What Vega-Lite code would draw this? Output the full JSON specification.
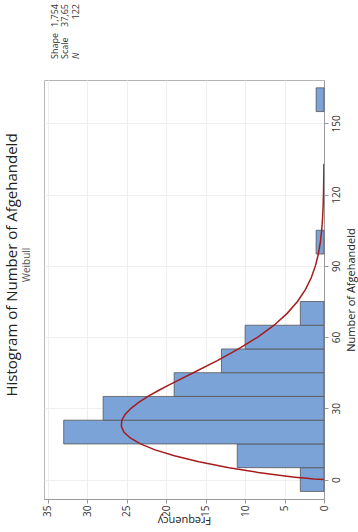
{
  "$schema": "https://vega.github.io/schema/vega-lite/v6.json",
  "padding": {"left": 5, "top": 3, "right": 2, "bottom": 0},
  "background": "white",
  "config": {
    "font": "Open Sans",
    "view": {"stroke": "#b5b5b5"},
    "concat": {"spacing": 19}
  },
  "title": {
    "text": "Histogram of Number of Afgehandeld",
    "subtitle": "Weibull",
    "orient": "left",
    "anchor": "middle",
    "fontSize": 15,
    "fontWeight": "normal",
    "color": "#222222",
    "subtitleFontSize": 10,
    "subtitleColor": "#555555",
    "subtitlePadding": 2,
    "offset": 10,
    "dx": 0
  },
  "datasets": {
    "stats": [
      {"stat": "Shape", "part": "label", "text": "Shape"},
      {"stat": "Shape", "part": "value", "text": "1,754"},
      {"stat": "Scale", "part": "label", "text": "Scale"},
      {"stat": "Scale", "part": "value", "text": "37,65"},
      {"stat": "N", "part": "label", "text": "N"},
      {"stat": "N", "part": "value", "text": "122"}
    ],
    "bins": [
      {"lo": -5, "hi": 5, "count": 3},
      {"lo": 5, "hi": 15, "count": 11},
      {"lo": 15, "hi": 25, "count": 33},
      {"lo": 25, "hi": 35, "count": 28},
      {"lo": 35, "hi": 45, "count": 19},
      {"lo": 45, "hi": 55, "count": 13},
      {"lo": 55, "hi": 65, "count": 10},
      {"lo": 65, "hi": 75, "count": 3},
      {"lo": 95, "hi": 105, "count": 1},
      {"lo": 155, "hi": 165, "count": 1}
    ],
    "fit": [
      {"v": 0, "f": 0},
      {"v": 0.25, "f": 1.3},
      {"v": 0.5, "f": 2.18},
      {"v": 1, "f": 3.68},
      {"v": 2, "f": 6.18},
      {"v": 3, "f": 8.34},
      {"v": 5, "f": 12.05},
      {"v": 7.5, "f": 15.87},
      {"v": 10, "f": 18.97},
      {"v": 12.5, "f": 21.42},
      {"v": 15, "f": 23.27},
      {"v": 17.5, "f": 24.57},
      {"v": 20, "f": 25.37},
      {"v": 22.5, "f": 25.7},
      {"v": 25, "f": 25.63},
      {"v": 27.5, "f": 25.2},
      {"v": 30, "f": 24.47},
      {"v": 32.5, "f": 23.49},
      {"v": 35, "f": 22.32},
      {"v": 37.5, "f": 20.99},
      {"v": 40, "f": 19.57},
      {"v": 45, "f": 16.57},
      {"v": 50, "f": 13.59},
      {"v": 55, "f": 10.83},
      {"v": 60, "f": 8.39},
      {"v": 65, "f": 6.33},
      {"v": 70, "f": 4.67},
      {"v": 75, "f": 3.36},
      {"v": 80, "f": 2.36},
      {"v": 85, "f": 1.62},
      {"v": 90, "f": 1.09},
      {"v": 95, "f": 0.717},
      {"v": 100, "f": 0.462},
      {"v": 105, "f": 0.292},
      {"v": 110, "f": 0.181},
      {"v": 115, "f": 0.11},
      {"v": 120, "f": 0.066},
      {"v": 125, "f": 0.039},
      {"v": 130, "f": 0.022},
      {"v": 133, "f": 0.016}
    ]
  },
  "vconcat": [
    {
      "width": 42,
      "height": 55,
      "data": {"name": "stats"},
      "view": {"stroke": null},
      "encoding": {
        "x": {"field": "stat", "type": "nominal", "sort": ["Shape", "Scale", "N"], "scale": {"type": "band", "paddingInner": 0, "paddingOuter": 0.5}, "axis": null},
        "y": {"field": "part", "type": "nominal", "scale": {"type": "point", "domain": ["value", "label"], "padding": 0}, "axis": null},
        "text": {"field": "text", "type": "nominal"}
      },
      "layer": [
        {
          "transform": [{"filter": "datum.part == 'label' && datum.stat != 'N'"}],
          "mark": {"type": "text", "angle": 270, "align": "left", "baseline": "middle", "fontSize": 9, "color": "#333333"}
        },
        {
          "transform": [{"filter": "datum.part == 'label' && datum.stat == 'N'"}],
          "mark": {"type": "text", "angle": 270, "align": "left", "baseline": "middle", "fontSize": 9, "fontStyle": "italic", "color": "#333333"}
        },
        {
          "transform": [{"filter": "datum.part == 'value'"}],
          "mark": {"type": "text", "angle": 270, "align": "right", "baseline": "middle", "fontSize": 9, "color": "#333333"}
        }
      ]
    },
    {
      "width": 280,
      "height": 419,
      "layer": [
        {
          "data": {"name": "bins"},
          "mark": {"type": "rect", "fill": "#7BA3D8", "stroke": "#555555", "strokeWidth": 0.8},
          "encoding": {
            "y": {
              "field": "lo", "type": "quantitative",
              "scale": {"domain": [-8.2, 168.3], "nice": false, "zero": false},
              "title": "Number of Afgehandeld",
              "axis": {
                "orient": "right", "values": [0, 30, 60, 90, 120, 150],
                "labelAngle": 270, "labelAlign": "center", "labelBaseline": "top",
                "labelFontSize": 10, "labelColor": "#333333", "labelPadding": 3, "labelOverlap": false,
                "tickSize": 4, "tickColor": "#999999", "domainColor": "#999999",
                "grid": true, "gridColor": "#efefef",
                "titleAngle": 270, "titleBaseline": "top", "titleFontSize": 11, "titleFontWeight": "normal", "titleColor": "#222222", "titlePadding": 4
              }
            },
            "y2": {"field": "hi"},
            "x": {
              "field": "count", "type": "quantitative",
              "scale": {"domain": [0, 35.5], "reverse": true, "nice": false},
              "title": "Frequency",
              "axis": {
                "orient": "bottom", "values": [0, 5, 10, 15, 20, 25, 30, 35],
                "labelAngle": 270, "labelAlign": "right", "labelBaseline": "middle",
                "labelFontSize": 10, "labelColor": "#333333", "labelPadding": 2, "labelOverlap": false,
                "tickSize": 4, "tickColor": "#999999", "domainColor": "#999999",
                "grid": true, "gridColor": "#efefef",
                "titleAngle": 180, "titleBaseline": "top", "titleFontSize": 11, "titleFontWeight": "normal", "titleColor": "#222222", "titlePadding": 9
              }
            },
            "x2": {"datum": 0}
          }
        },
        {
          "data": {"name": "fit"},
          "mark": {"type": "line", "color": "#A51C1C", "strokeWidth": 1.5, "clip": true},
          "encoding": {
            "y": {
              "field": "v", "type": "quantitative",
              "title": "Number of Afgehandeld",
              "axis": {
                "orient": "right", "values": [0, 30, 60, 90, 120, 150],
                "labelAngle": 270, "labelAlign": "center", "labelBaseline": "top",
                "labelFontSize": 10, "labelColor": "#333333", "labelPadding": 3, "labelOverlap": false,
                "tickSize": 4, "tickColor": "#999999", "domainColor": "#999999",
                "grid": true, "gridColor": "#efefef",
                "titleAngle": 270, "titleBaseline": "top", "titleFontSize": 11, "titleFontWeight": "normal", "titleColor": "#222222", "titlePadding": 4
              }
            },
            "x": {
              "field": "f", "type": "quantitative",
              "title": "Frequency",
              "axis": {
                "orient": "bottom", "values": [0, 5, 10, 15, 20, 25, 30, 35],
                "labelAngle": 270, "labelAlign": "right", "labelBaseline": "middle",
                "labelFontSize": 10, "labelColor": "#333333", "labelPadding": 2, "labelOverlap": false,
                "tickSize": 4, "tickColor": "#999999", "domainColor": "#999999",
                "grid": true, "gridColor": "#efefef",
                "titleAngle": 180, "titleBaseline": "top", "titleFontSize": 11, "titleFontWeight": "normal", "titleColor": "#222222", "titlePadding": 9
              }
            },
            "order": {"field": "v", "type": "quantitative"}
          }
        }
      ]
    }
  ]
}
